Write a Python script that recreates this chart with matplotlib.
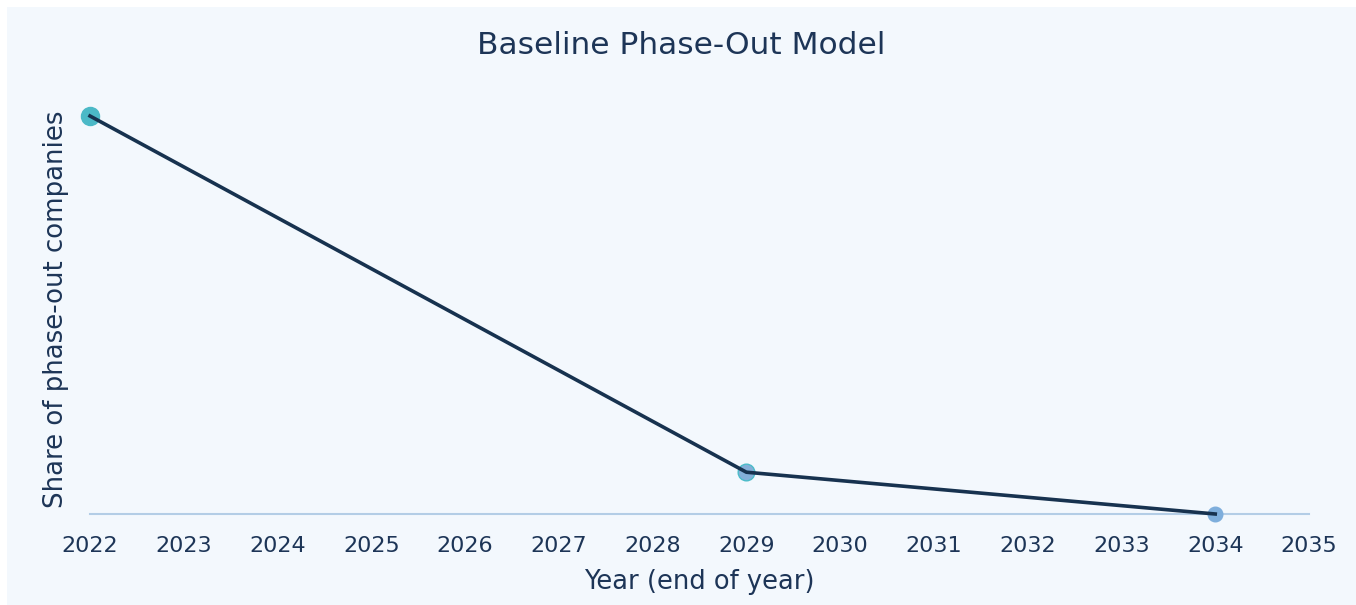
import matplotlib.pyplot as plt
from matplotlib.patches import Rectangle

years = [2022, 2029, 2034]
share = [1.0, 0.105, 0.0]
marker_sizes = [13, 12, 10.5]
marker_faces = ['#4bb9c7', '#84afd8', '#7eaedc']
marker_edges = ['#4bb9c7', '#4bbcc9', '#7eaedc']
tick_years = list(range(2022, 2036))

text_color = '#1d3557'
line_color = '#17324f'
bg_color = '#f3f8fd'

plt.rcParams['font.family'] = ['DejaVu Sans']

W, H = 1356, 605
fig = plt.figure(figsize=(W / 100, H / 100), dpi=100)
fig.patch.set_facecolor('white')
fig.patches.append(Rectangle((7 / W, 0), 1 - 7 / W, 1 - 7 / H,
                             transform=fig.transFigure, facecolor=bg_color,
                             edgecolor='none', zorder=-10))

# axes: x 2022 at px 90, 2035 at px 1309; y=0 at px 514, y=1 at px 116
ax = fig.add_axes([90 / W, 1 - 514 / H, (1309 - 90) / W, (514 - 116) / H])
ax.set_facecolor('none')
ax.set_xlim(2022, 2035)
ax.set_ylim(0, 1)

ax.plot(years, share, color=line_color, linewidth=2.6, zorder=2, clip_on=False)
for x, y, s, fc, ec in zip(years, share, marker_sizes, marker_faces, marker_edges):
    ax.plot([x], [y], 'o', markersize=s, markerfacecolor=fc, markeredgecolor=ec,
            markeredgewidth=1, zorder=1, clip_on=False)

for side in ['top', 'right', 'left']:
    ax.spines[side].set_visible(False)
ax.spines['bottom'].set_color('#b3cde6')
ax.spines['bottom'].set_linewidth(1.5)
ax.spines['bottom'].set_zorder(0)

ax.set_xticks(tick_years)
ax.set_xticklabels([str(y) for y in tick_years])
ax.tick_params(axis='x', length=0, pad=16, labelsize=16, labelcolor=text_color)
ax.set_yticks([])

ax.set_xlabel('Year (end of year)', fontsize=18.5, color=text_color, labelpad=9)
ax.set_ylabel('Share of phase-out companies', fontsize=18.7, color=text_color)
ax.yaxis.set_label_coords(-21 / (1309 - 90), 0.515)
fig.text(0.5023, 1 - 46 / H, 'Baseline Phase-Out Model', ha='center', va='center',
         fontsize=22.5, color=text_color)

fig.savefig('out.png', dpi=100, facecolor=fig.get_facecolor())
